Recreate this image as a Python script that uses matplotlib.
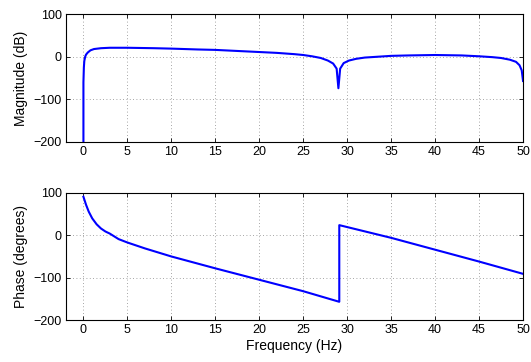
import matplotlib
matplotlib.use("Agg")
import matplotlib.pyplot as plt

# magnitude response
magFreq = [0.0, 0.0, 0.05, 0.1, 0.2, 0.3, 0.5, 0.8, 1.2, 2.0, 3.0, 5.0, 8.0, 10.0, 13.0, 15.0,
           18.0, 20.0, 22.0, 24.0, 25.0, 26.0, 27.0, 27.8, 28.4, 28.8, 29.0, 29.2, 29.6, 30.2,
           31.0, 32.0, 33.5, 35.0, 37.0, 40.0, 43.0, 45.0, 46.5, 47.5, 48.5, 49.2, 49.6, 49.85, 50.0]
magDb = [-200, -60, -25, -10, 0, 5, 10, 15, 18, 20, 21, 21, 20, 19, 17, 16,
         13, 11, 9, 6, 4, 1, -3, -9, -16, -28, -74, -28, -15, -9,
         -5, -2, 0, 2, 3, 4, 3, 1, -1, -3, -7, -12, -20, -32, -57]

# phase response
phFreq = [0.0, 0.3, 0.6, 1.0, 1.5, 2.0, 2.5, 3.0, 4.0, 5.0, 7.0, 10.0, 15.0, 20.0, 25.0, 29.1,
          29.1, 35.0, 40.0, 45.0, 50.0]
phDeg = [91, 72, 56, 40, 26, 16, 9, 4, -9, -17, -31, -50, -78, -105, -132, -157,
         24, -6, -34, -62, -91]

xTicks = [0, 5, 10, 15, 20, 25, 30, 35, 40, 45, 50]
yTicks = [-200, -100, 0, 100]

plt.rcParams['font.family'] = ['Liberation Sans', 'DejaVu Sans']
plt.rcParams['font.size'] = 9

fig = plt.figure(figsize=(5.31, 3.62), dpi=100)
ax1 = fig.add_axes([0.124, 0.608, 0.861, 0.353])
ax2 = fig.add_axes([0.124, 0.116, 0.861, 0.351])

for ax in (ax1, ax2):
    ax.set_xlim(-2, 50)
    ax.set_ylim(-200, 100)
    ax.set_xticks(xTicks)
    ax.set_yticks(yTicks)
    ax.grid(True, linestyle=(0, (1, 3)), color='#888888', linewidth=0.6)
    ax.tick_params(direction='in', top=True, right=True, length=3, width=0.6, labelsize=9, pad=3)
    for s in ax.spines.values():
        s.set_linewidth(0.8)

ax1.plot(magFreq, magDb, color='#0000ff', linewidth=1.5)
ax1.set_ylabel('Magnitude (dB)', fontsize=10, labelpad=4)

ax2.plot(phFreq, phDeg, color='#0000ff', linewidth=1.5)
ax2.set_ylabel('Phase (degrees)', fontsize=10, labelpad=4)
ax2.set_xlabel('Frequency (Hz)', fontsize=10, labelpad=2)

fig.savefig('out.png', dpi=100)
